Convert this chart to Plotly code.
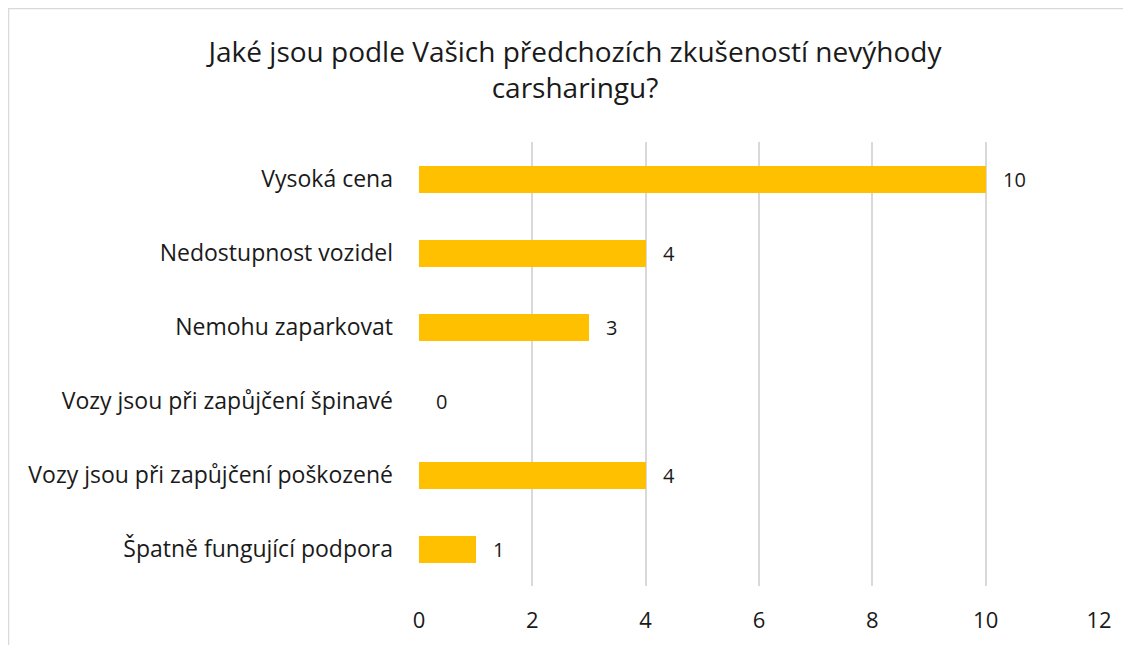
import plotly.graph_objects as go

categories = [
    "Vysoká cena",
    "Nedostupnost vozidel",
    "Nemohu zaparkovat",
    "Vozy jsou při zapůjčení špinavé",
    "Vozy jsou při zapůjčení poškozené",
    "Špatně fungující podpora",
]
values = [10, 4, 3, 0, 4, 1]
x_ticks = [0, 2, 4, 6, 8, 10, 12]

title_text = "Jaké jsou podle Vašich předchozích zkušeností nevýhody<br>carsharingu?"

FONT = "Open Sans"
TXT = "#1a1a1a"

# page offset (browser body margin) is 8px; positions below are figure coords
OFF = 8
W, H = 1131, 645
L, R = 419 - OFF, 1099 - OFF
T, B = 142 - OFF, 586 - OFF

fig = go.Figure()
fig.add_trace(go.Bar(
    y=categories,
    x=values,
    orientation="h",
    marker=dict(color="#FFC000", line=dict(width=0)),
    width=0.365,
    hoverinfo="x+y",
))

# data labels, placed from the data values
for cat, v in zip(categories, values):
    fig.add_annotation(
        x=v, y=cat, xref="x", yref="y",
        text=str(v), showarrow=False,
        xanchor="left", yanchor="middle",
        xshift=15,
        font=dict(family=FONT, size=20, color=TXT),
    )

fig.update_layout(
    width=W, height=H,
    margin=dict(l=L, r=W - R, t=T, b=H - B, pad=0),
    paper_bgcolor="white",
    plot_bgcolor="white",
    showlegend=False,
    font=dict(family=FONT, size=22, color=TXT),
    title=dict(
        text=title_text,
        x=(575 - OFF) / W, xref="container", xanchor="center",
        y=1 - (62 - OFF) / H, yref="container", yanchor="middle",
        font=dict(family=FONT, size=28, color=TXT),
    ),
    xaxis=dict(
        range=[0, 12],
        tickvals=x_ticks,
        showgrid=True,
        gridcolor="#D9D9D9",
        gridwidth=1.5,
        zeroline=False,
        showline=False,
        ticks="",
        tickfont=dict(family=FONT, size=22, color=TXT),
        ticklabelstandoff=19,
    ),
    yaxis=dict(
        categoryorder="array",
        categoryarray=categories[::-1],
        range=[-0.5, 5.5],
        showgrid=False,
        zeroline=False,
        showline=False,
        ticks="",
        tickfont=dict(family=FONT, size=23, color=TXT),
        ticklabelstandoff=25,
    ),
    bargap=0,
)

# outer chart border at the paper edge (top and left visible)
px_w = R - L
px_h = B - T
fig.add_shape(
    type="rect",
    xref="paper", yref="paper",
    x0=(0.5 - L) / px_w, x1=(W + 20 - L) / px_w,
    y0=(B - (H + 20)) / px_h, y1=(B - 0.5) / px_h,
    line=dict(color="#D9D9D9", width=1.5),
    fillcolor="rgba(0,0,0,0)",
    layer="below",
)

fig.write_html("out.html")
